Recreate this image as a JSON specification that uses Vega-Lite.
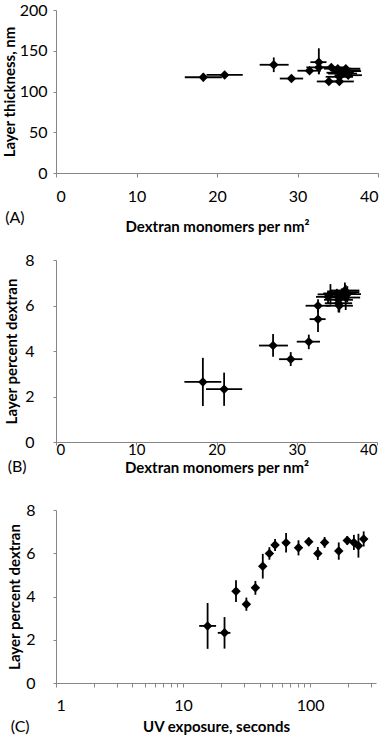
{
  "$schema": "https://vega.github.io/schema/vega-lite/v6.json",
  "padding": {"left": 2, "top": 2, "right": 5, "bottom": 0},
  "background": "white",
  "config": {
    "view": {"stroke": null},
    "axis": {
      "grid": false,
      "domainColor": "#868686",
      "tickColor": "#868686",
      "tickSize": 4,
      "labelFont": "Lato",
      "labelFontSize": 16,
      "labelColor": "#000000",
      "titleFont": "Lato",
      "titleFontSize": 15,
      "titleFontWeight": "bold",
      "titleColor": "#000000",
      "labelOverlap": false
    },
    "title": {"font": "Lato", "fontSize": 16, "fontWeight": "normal", "color": "#000000"}
  },
  "data": {
    "values": [
      {"t": 15.6, "tlo": 13.4, "thi": 18.2, "x": 18.3, "xlo": 16.0, "xhi": 20.6, "th": 117.5, "thlo": 112.5, "thhi": 122.5, "p": 2.64, "plo": 1.58, "phi": 3.7},
      {"t": 21.2, "tlo": 18.75, "thi": 23.6, "x": 20.95, "xlo": 18.7, "xhi": 23.2, "th": 120.3, "thlo": 117.3, "thhi": 123.3, "p": 2.32, "plo": 1.59, "phi": 3.05},
      {"t": 26.1, "tlo": null, "thi": null, "x": 27.05, "xlo": 25.3, "xhi": 28.9, "th": 132.8, "thlo": 123.8, "thhi": 141.8, "p": 4.24, "plo": 3.75, "phi": 4.75},
      {"t": 31.5, "tlo": null, "thi": null, "x": 29.25, "xlo": 27.8, "xhi": 30.7, "th": 115.9, "thlo": 113.9, "thhi": 117.9, "p": 3.64, "plo": 3.34, "phi": 3.95},
      {"t": 37.1, "tlo": null, "thi": null, "x": 31.5, "xlo": 30.0, "xhi": 32.9, "th": 125.5, "thlo": 122.5, "thhi": 128.5, "p": 4.41, "plo": 4.08, "phi": 4.72},
      {"t": 42.4, "tlo": null, "thi": null, "x": 32.65, "xlo": 31.6, "xhi": 33.6, "th": 136.0, "thlo": 121.0, "thhi": 153.0, "p": 5.4, "plo": 4.83, "phi": 5.97},
      {"t": 47.8, "tlo": null, "thi": null, "x": 32.65, "xlo": 31.1, "xhi": 34.2, "th": 129.6, "thlo": 121.6, "thhi": 137.6, "p": 5.99, "plo": 5.7, "phi": 6.28},
      {"t": 53.0, "tlo": null, "thi": null, "x": 33.9, "xlo": 32.4, "xhi": 35.4, "th": 112.3, "thlo": 109.3, "thhi": 115.3, "p": 6.38, "plo": 6.1, "phi": 6.66},
      {"t": 64.7, "tlo": null, "thi": null, "x": 34.2, "xlo": 32.6, "xhi": 35.8, "th": 129.6, "thlo": 126.6, "thhi": 132.6, "p": 6.49, "plo": 6.04, "phi": 6.94},
      {"t": 81.0, "tlo": null, "thi": null, "x": 35.2, "xlo": 33.4, "xhi": 37.0, "th": 112.3, "thlo": 109.3, "thhi": 115.3, "p": 6.25, "plo": 5.9, "phi": 6.6},
      {"t": 97.6, "tlo": null, "thi": null, "x": 35.0, "xlo": 33.3, "xhi": 36.7, "th": 128.0, "thlo": 125.0, "thhi": 131.0, "p": 6.53, "plo": 6.33, "phi": 6.73},
      {"t": 115.0, "tlo": null, "thi": null, "x": 35.3, "xlo": 33.6, "xhi": 37.0, "th": 123.0, "thlo": 120.0, "thhi": 126.0, "p": 5.99, "plo": 5.69, "phi": 6.29},
      {"t": 130.0, "tlo": null, "thi": null, "x": 35.6, "xlo": 33.8, "xhi": 37.4, "th": 122.0, "thlo": 119.0, "thhi": 125.0, "p": 6.5, "plo": 6.25, "phi": 6.75},
      {"t": 168.0, "tlo": null, "thi": null, "x": 35.2, "xlo": 33.5, "xhi": 36.9, "th": 118.0, "thlo": 115.0, "thhi": 121.0, "p": 6.1, "plo": 5.7, "phi": 6.5},
      {"t": 196.0, "tlo": null, "thi": null, "x": 36.0, "xlo": 34.2, "xhi": 37.8, "th": 126.0, "thlo": 123.0, "thhi": 129.0, "p": 6.59, "plo": 6.39, "phi": 6.79},
      {"t": 221.0, "tlo": null, "thi": null, "x": 36.3, "xlo": 34.6, "xhi": 38.0, "th": 120.0, "thlo": 117.0, "thhi": 123.0, "p": 6.5, "plo": 6.15, "phi": 6.85},
      {"t": 240.0, "tlo": null, "thi": null, "x": 36.1, "xlo": 34.3, "xhi": 37.9, "th": 125.0, "thlo": 122.0, "thhi": 128.0, "p": 6.35, "plo": 5.8, "phi": 6.9},
      {"t": 264.0, "tlo": null, "thi": null, "x": 36.0, "xlo": 34.2, "xhi": 37.8, "th": 128.0, "thlo": 125.0, "thhi": 131.0, "p": 6.66, "plo": 6.31, "phi": 7.01}
    ]
  },
  "spacing": 27,
  "vconcat": [
    {
      "spacing": 18,
      "vconcat": [
        {
          "width": 322,
          "height": 163,
          "title": {"text": "(A)", "orient": "bottom", "anchor": "start", "frame": "bounds", "offset": 0, "dy": -24, "dx": 3},
          "layer": [
            {
              "mark": {"type": "rule", "color": "black", "strokeWidth": 1.8},
              "encoding": {
                "x": {"field": "xlo", "type": "quantitative", "scale": {"domain": [0, 40], "nice": false}, "axis": {"values": [0, 10, 20, 30, 40], "labelPadding": 11, "titlePadding": 15}, "title": "Dextran monomers per nm²"},
                "x2": {"field": "xhi"},
                "y": {"field": "th", "type": "quantitative", "scale": {"domain": [0, 200], "nice": false}, "axis": {"values": [0, 50, 100, 150, 200], "labelPadding": 6, "titlePadding": 2, "tickSize": 3}, "title": "Layer thickness, nm"}
              }
            },
            {
              "mark": {"type": "rule", "color": "black", "strokeWidth": 1.8},
              "encoding": {
                "x": {"field": "x", "type": "quantitative", "title": "Dextran monomers per nm²"},
                "y": {"field": "thlo", "type": "quantitative", "title": "Layer thickness, nm"},
                "y2": {"field": "thhi"}
              }
            },
            {
              "mark": {"type": "point", "shape": "diamond", "filled": true, "color": "black", "size": 90, "opacity": 1},
              "encoding": {
                "x": {"field": "x", "type": "quantitative", "title": "Dextran monomers per nm²"},
                "y": {"field": "th", "type": "quantitative", "title": "Layer thickness, nm"}
              }
            }
          ]
        },
        {
          "width": 321,
          "height": 182,
          "title": {"text": "(B)", "orient": "bottom", "anchor": "start", "frame": "bounds", "offset": 0, "dy": -16, "dx": 3},
          "layer": [
            {
              "mark": {"type": "rule", "color": "black", "strokeWidth": 1.8},
              "encoding": {
                "x": {"field": "xlo", "type": "quantitative", "scale": {"domain": [0, 40], "nice": false}, "axis": {"values": [0, 10, 20, 30, 40], "labelFontSize": 15, "tickSize": 3, "labelPadding": -3, "titlePadding": 3}, "title": "Dextran monomers per nm²"},
                "x2": {"field": "xhi"},
                "y": {"field": "p", "type": "quantitative", "scale": {"domain": [0, 8], "nice": false}, "axis": {"values": [0, 2, 4, 6, 8], "labelPadding": 19, "titlePadding": 5, "tickSize": 3}, "title": "Layer percent dextran"}
              }
            },
            {
              "mark": {"type": "rule", "color": "black", "strokeWidth": 1.8},
              "encoding": {
                "x": {"field": "x", "type": "quantitative", "title": "Dextran monomers per nm²"},
                "y": {"field": "plo", "type": "quantitative", "title": "Layer percent dextran"},
                "y2": {"field": "phi"}
              }
            },
            {
              "mark": {"type": "point", "shape": "diamond", "filled": true, "color": "black", "size": 90, "opacity": 1},
              "encoding": {
                "x": {"field": "x", "type": "quantitative", "title": "Dextran monomers per nm²"},
                "y": {"field": "p", "type": "quantitative", "title": "Layer percent dextran"}
              }
            }
          ]
        }
      ]
    },
    {
      "width": 320,
      "height": 173,
      "title": {"text": "(C)", "orient": "bottom", "anchor": "start", "frame": "bounds", "offset": 0, "dy": -15, "dx": 3},
      "layer": [
        {
          "mark": {"type": "rule", "color": "black", "strokeWidth": 1.8},
          "encoding": {
            "x": {"field": "tlo", "type": "quantitative", "scale": {"type": "log", "domain": [1, 330], "nice": false}, "axis": {"values": [1, 2, 3, 4, 5, 6, 7, 8, 9, 10, 20, 30, 40, 50, 60, 70, 80, 90, 100, 200, 300], "labelExpr": "indexof([1, 10, 100], datum.value) >= 0 ? format(datum.value, 'd') : ''", "labelPadding": 10, "titlePadding": 6}, "title": "UV exposure, seconds"},
            "x2": {"field": "thi"},
            "y": {"field": "p", "type": "quantitative", "scale": {"domain": [0, 8], "nice": false}, "axis": {"values": [0, 2, 4, 6, 8], "labelPadding": 18, "titlePadding": 3, "tickSize": 3}, "title": "Layer percent dextran"}
          }
        },
        {
          "mark": {"type": "rule", "color": "black", "strokeWidth": 1.8},
          "encoding": {
            "x": {"field": "t", "type": "quantitative", "title": "UV exposure, seconds"},
            "y": {"field": "plo", "type": "quantitative", "title": "Layer percent dextran"},
            "y2": {"field": "phi"}
          }
        },
        {
          "mark": {"type": "point", "shape": "diamond", "filled": true, "color": "black", "size": 90, "opacity": 1},
          "encoding": {
            "x": {"field": "t", "type": "quantitative", "title": "UV exposure, seconds"},
            "y": {"field": "p", "type": "quantitative", "title": "Layer percent dextran"}
          }
        }
      ]
    }
  ]
}
